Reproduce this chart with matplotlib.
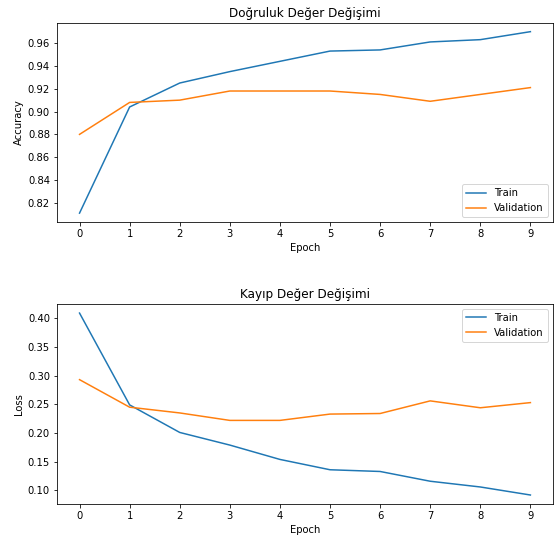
import matplotlib.pyplot as plt
import numpy as np

# Data
epochs = np.arange(10)
acc_train = [0.811, 0.904, 0.925, 0.935, 0.944, 0.953, 0.954, 0.961, 0.963, 0.970]
acc_val = [0.880, 0.908, 0.910, 0.918, 0.918, 0.918, 0.915, 0.909, 0.915, 0.921]
loss_train = [0.409, 0.249, 0.201, 0.179, 0.154, 0.136, 0.133, 0.116, 0.106, 0.092]
loss_val = [0.293, 0.245, 0.235, 0.222, 0.222, 0.233, 0.234, 0.256, 0.244, 0.253]

fig = plt.figure(figsize=(556 / 72, 538 / 72), dpi=72)
ax1 = fig.add_axes([0.1025, 0.587, 0.892, 0.371])
ax2 = fig.add_axes([0.1025, 0.063, 0.892, 0.372])

ax1.plot(epochs, acc_train, label='Train')
ax1.plot(epochs, acc_val, label='Validation')
ax1.set_title('Doğruluk Değer Değişimi')
ax1.set_ylabel('Accuracy')
ax1.set_xlabel('Epoch')
ax1.set_xticks(epochs)
ax1.legend(loc='lower right')

ax2.plot(epochs, loss_train, label='Train')
ax2.plot(epochs, loss_val, label='Validation')
ax2.set_title('Kayıp Değer Değişimi')
ax2.set_ylabel('Loss')
ax2.set_xlabel('Epoch')
ax2.set_xticks(epochs)
ax2.legend(loc='upper right')

fig.savefig('out.png', dpi=72)
